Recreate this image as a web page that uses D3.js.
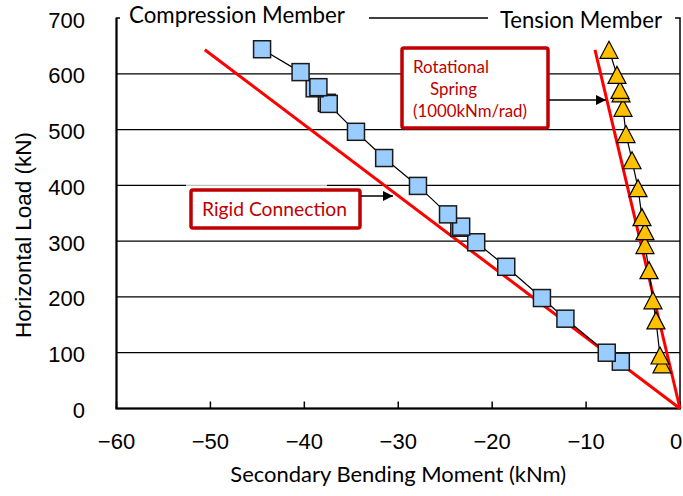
<!DOCTYPE html>
<html>
<head>
<meta charset="utf-8">
<script src="https://cdn.jsdelivr.net/npm/d3@7/dist/d3.min.js"></script>
<style>
  html, body { margin: 0; padding: 0; background: #fff; }
  svg { display: block; }
</style>
</head>
<body>
<svg id="chart" width="683" height="496"></svg>
<script>
"use strict";

// compression member (squares)
var compMoment = [-6.3, -7.8, -12.2, -14.7, -18.5, -21.7, -23.5, -23.3, -24.7, -27.9,
  -31.5, -34.5, -37.6, -37.4, -38.9, -38.5, -40.4, -44.5];
var compLoad = [84, 100, 161, 198, 254, 298, 324, 326, 348, 399,
  449, 496, 548, 546, 574, 576, 603, 644];

// tension member (triangles)
var tensMoment = [-1.92, -2.13, -2.56, -2.88, -3.3, -3.73, -3.73, -4.05, -4.47, -5.11,
  -5.75, -6.07, -6.28, -6.39, -6.71, -7.56];
var tensLoad = [79, 95, 158, 194, 248, 293, 318, 343, 395, 445,
  492, 539, 565, 571, 598, 643];

// analytical lines
var rigidMoment = [0, -50.6];
var rigidLoad = [0, 643];
var springMoment = [0, -9.05];
var springLoad = [0, 643];

var xTicks = [-60, -50, -40, -30, -20, -10, 0];
var yTicks = [0, 100, 200, 300, 400, 500, 600, 700];

var svg = d3.select("#chart");
var W = 683;

var x = d3.scaleLinear().domain([-60, 0]).range([116.5, 680]);
var y = d3.scaleLinear().domain([0, 700]).range([408.5, 18]);

function zip(a, b) {
  return a.map(function (v, i) { return { x: v, y: b[i] }; });
}

// fit a text to a target width by scaling its font size
function fitWidth(sel, w) {
  var node = sel.node();
  var fs = parseFloat(sel.attr("font-size"));
  var len = node.getComputedTextLength();
  if (len > 0) sel.attr("font-size", (fs * w / len).toFixed(2));
  return sel;
}

var defs = svg.append("defs");
defs.append("marker")
  .attr("id", "arrow")
  .attr("viewBox", "0 0 10 10")
  .attr("refX", 10)
  .attr("refY", 5)
  .attr("markerUnits", "userSpaceOnUse")
  .attr("markerWidth", 11)
  .attr("markerHeight", 10)
  .attr("orient", "auto")
  .append("path")
  .attr("d", "M0,0 L10,5 L0,10 Z")
  .attr("fill", "#000");

// grid lines
svg.append("g")
  .selectAll("line")
  .data(yTicks.filter(function (d) { return d > 0 && d < 700; }))
  .enter()
  .append("line")
  .attr("x1", x(-60))
  .attr("x2", x(0))
  .attr("y1", function (d) { return y(d); })
  .attr("y2", function (d) { return y(d); })
  .attr("stroke", "#000")
  .attr("stroke-width", 1.3);

// frame
svg.append("rect")
  .attr("x", x(-60))
  .attr("y", y(700))
  .attr("width", x(0) - x(-60))
  .attr("height", y(0) - y(700))
  .attr("fill", "none")
  .attr("stroke", "#000")
  .attr("stroke-width", 1.5);
svg.append("line")
  .attr("x1", x(-60) - 1).attr("x2", x(0) + 1)
  .attr("y1", y(0)).attr("y2", y(0))
  .attr("stroke", "#000").attr("stroke-width", 2.2);
svg.append("line")
  .attr("x1", x(-60)).attr("x2", x(-60))
  .attr("y1", y(700)).attr("y2", y(0))
  .attr("stroke", "#000").attr("stroke-width", 2);

// x ticks (inside)
svg.append("g")
  .selectAll("line")
  .data(xTicks)
  .enter()
  .append("line")
  .attr("x1", function (d) { return x(d); })
  .attr("x2", function (d) { return x(d); })
  .attr("y1", y(0))
  .attr("y2", y(0) - 7)
  .attr("stroke", "#000")
  .attr("stroke-width", 1.5);

// tick labels
svg.append("g")
  .selectAll("text")
  .data(yTicks)
  .enter()
  .append("text")
  .attr("x", 85)
  .attr("y", function (d) { return y(d) + 9.5; })
  .attr("text-anchor", "end")
  .attr("font-family", "'Liberation Sans', Arial, sans-serif")
  .attr("font-size", 22)
  .attr("fill", "#000")
  .text(function (d) { return d; });

svg.append("g")
  .selectAll("text")
  .data(xTicks)
  .enter()
  .append("text")
  .attr("x", function (d) { return Math.min(x(d), W - 7); })
  .attr("y", 449)
  .attr("text-anchor", "middle")
  .attr("font-family", "'Liberation Sans', Arial, sans-serif")
  .attr("font-size", 22)
  .attr("fill", "#000")
  .text(function (d) { return d < 0 ? "\u2212" + Math.abs(d) : d; });

// axis titles
fitWidth(svg.append("text")
  .attr("transform", "translate(31,235) rotate(-90)")
  .attr("text-anchor", "middle")
  .attr("font-family", "'Liberation Sans', Arial, sans-serif")
  .attr("font-size", 20)
  .attr("fill", "#000")
  .text("Horizontal Load (kN)"), 206);

fitWidth(svg.append("text")
  .attr("x", (x(-60) + x(0)) / 2)
  .attr("y", 482)
  .attr("text-anchor", "middle")
  .attr("font-family", "Lato, 'Noto Sans', sans-serif")
  .attr("font-size", 20)
  .attr("fill", "#000")
  .text("Secondary Bending Moment (kNm)"), 336);

// member labels sitting on the top frame
svg.append("rect").attr("x", 120).attr("y", 6).attr("width", 249).attr("height", 24).attr("fill", "#fff");
svg.append("rect").attr("x", 488).attr("y", 6).attr("width", 187).attr("height", 26).attr("fill", "#fff");
fitWidth(svg.append("text")
  .attr("x", 129)
  .attr("y", 23)
  .attr("font-family", "Lato, 'Noto Sans', sans-serif")
  .attr("font-size", 22)
  .attr("fill", "#000")
  .text("Compression Member"), 216);
fitWidth(svg.append("text")
  .attr("x", 500)
  .attr("y", 28)
  .attr("font-family", "Lato, 'Noto Sans', sans-serif")
  .attr("font-size", 22)
  .attr("fill", "#000")
  .text("Tension Member"), 162);

// analytical lines
var line = d3.line()
  .x(function (d) { return x(d.x); })
  .y(function (d) { return y(d.y); });

[zip(rigidMoment, rigidLoad), zip(springMoment, springLoad)].forEach(function (pts) {
  svg.append("path")
    .attr("d", line(pts))
    .attr("fill", "none")
    .attr("stroke", "#ff0000")
    .attr("stroke-width", 3);
});

// measured series
var compData = zip(compMoment, compLoad);
var tensData = zip(tensMoment, tensLoad);

svg.append("path")
  .attr("d", line(compData))
  .attr("fill", "none")
  .attr("stroke", "#000")
  .attr("stroke-width", 1.2);
svg.append("path")
  .attr("d", line(tensData))
  .attr("fill", "none")
  .attr("stroke", "#000")
  .attr("stroke-width", 1.2);

var sq = 17;
svg.append("g")
  .selectAll("rect")
  .data(compData)
  .enter()
  .append("rect")
  .attr("x", function (d) { return x(d.x) - sq / 2; })
  .attr("y", function (d) { return y(d.y) - sq / 2; })
  .attr("width", sq)
  .attr("height", sq)
  .attr("fill", "#99ccff")
  .attr("stroke", "#1a1a1a")
  .attr("stroke-width", 1.5);

var tw = 18, th = 17;
svg.append("g")
  .selectAll("path")
  .data(tensData)
  .enter()
  .append("path")
  .attr("d", function (d) {
    var cx = x(d.x), cy = y(d.y);
    return "M" + cx + "," + (cy - th / 2) +
      "L" + (cx + tw / 2) + "," + (cy + th / 2) +
      "L" + (cx - tw / 2) + "," + (cy + th / 2) + "Z";
  })
  .attr("fill", "#ffc000")
  .attr("stroke", "#000")
  .attr("stroke-width", 1.2)
  .attr("stroke-linejoin", "miter");

// annotations
var noteColor = "#c00000";

svg.append("rect")
  .attr("x", 186).attr("y", y(400) - 2.5).attr("width", 141).attr("height", 5)
  .attr("fill", "#fff").attr("opacity", 0.75);

svg.append("rect")
  .attr("x", 191).attr("y", 190).attr("width", 169).attr("height", 38)
  .attr("rx", 2)
  .attr("fill", "#fff")
  .attr("stroke", noteColor)
  .attr("stroke-width", 3.5);
fitWidth(svg.append("text")
  .attr("x", 202).attr("y", 216)
  .attr("font-family", "Lato, 'Noto Sans', sans-serif")
  .attr("font-size", 20)
  .attr("fill", noteColor)
  .text("Rigid Connection"), 145);
svg.append("line")
  .attr("x1", 361).attr("y1", 196).attr("x2", 393).attr("y2", 196)
  .attr("stroke", "#000").attr("stroke-width", 1.5)
  .attr("marker-end", "url(#arrow)");

svg.append("rect")
  .attr("x", 402).attr("y", 48).attr("width", 146).attr("height", 80)
  .attr("rx", 2)
  .attr("fill", "#fff")
  .attr("stroke", noteColor)
  .attr("stroke-width", 3.5);
var springText = [
  { t: "Rotational", x: 413, y: 73, w: 76 },
  { t: "Spring", x: 430, y: 95, w: 47 },
  { t: "(1000kNm/rad)", x: 413, y: 117, w: 114 }
];
springText.forEach(function (s) {
  fitWidth(svg.append("text")
    .attr("x", s.x).attr("y", s.y)
    .attr("font-family", "Lato, 'Noto Sans', sans-serif")
    .attr("font-size", 17)
    .attr("fill", noteColor)
    .text(s.t), s.w);
});
svg.append("line")
  .attr("x1", 549).attr("y1", 100).attr("x2", 606).attr("y2", 100)
  .attr("stroke", "#000").attr("stroke-width", 1.5)
  .attr("marker-end", "url(#arrow)");
</script>
</body>
</html>
